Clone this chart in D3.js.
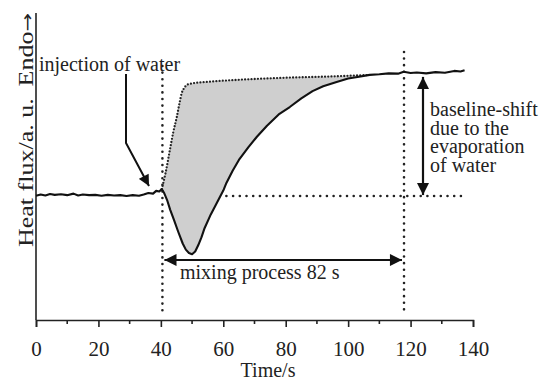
<!DOCTYPE html>
<html>
<head>
<meta charset="utf-8">
<script src="https://cdn.jsdelivr.net/npm/d3@7"></script>
<style>
  body { margin: 0; background: #fff; }
  svg { display: block; font-family: "Liberation Serif", "Times New Roman", serif; }
  .label { font-size: 20px; fill: #222; }
</style>
</head>
<body>
<div id="chart"></div>
<script>
// DATA
// ------------------------------------------------------------------

// measured heat flux curve (time in s, heat flux in a. u.)
var fluxTime = [0, 1.5, 3, 4.5, 6, 8, 10, 12, 13.5, 15, 17, 19, 21, 23, 25, 27, 29, 31, 33, 34.5,
                36, 37.5, 38.5, 39.5, 40.3, 41, 42, 43, 44.2, 45.5, 47, 48, 49, 50, 51, 52, 53, 54,
                56, 58, 60, 61, 63, 65, 68, 70.7, 74, 78, 81.3, 85, 88.6, 92, 96.3, 100, 103, 106.9,
                110, 113, 116, 117.8, 120, 122, 125, 128, 131, 134, 136, 137.3];
var fluxValue = [40.6, 41.0, 40.7, 41.2, 40.9, 41.1, 40.8, 41.3, 40.7, 41.0, 40.8, 40.9, 40.6, 40.9, 40.7, 40.8, 40.5, 40.8, 40.6, 41.0,
                 41.5, 41.3, 42.2, 42.0, 42.8, 41.6, 39.2, 36.0, 32.7, 29.0, 25.0, 23.0, 21.9, 21.5, 22.4, 24.5, 27.0, 30.0,
                 34.5, 38.4, 42.3, 44.8, 48.8, 52.3, 56.4, 59.8, 63.5, 67.4, 69.6, 72.4, 74.8, 76.4, 77.8, 78.9, 79.4, 80.1,
                 80.3, 80.6, 80.5, 81.1, 80.7, 80.9, 80.6, 81.0, 80.8, 81.4, 81.2, 81.6];

// dotted upper envelope (heat flux without mixing)
var envTime = [40.3, 41.5, 42.9, 44, 45.1, 46, 46.7, 47.5, 48.3, 50, 54.7, 65, 78, 95, 106.9];
var envValue = [42.8, 48.0, 55.6, 61.5, 66.3, 71.0, 74.2, 75.8, 76.8, 77.3, 77.8, 78.5, 79.1, 79.6, 80.1];

var xTicks = [0, 20, 40, 60, 80, 100, 120, 140];
var xMinorTicks = [10, 30, 50, 70, 90, 110, 130];

// marker lines and annotation positions (data units)
var mixStart = 40.5, mixEnd = 117.9;
var baseLevel = 40.5, shiftLevel = 80.1;
var baselineText = ["baseline-shift", "due to the", "evaporation", "of water"];

// CANVAS
// ------------------------------------------------------------------

var width = 540,
    height = 381;

var svg = d3.select("#chart")
    .append("svg")
    .attr("width", width)
    .attr("height", height);

var defs = svg.append("defs");
defs.append("marker")
    .attr("id", "head")
    .attr("viewBox", "0 0 10 10")
    .attr("refX", 10).attr("refY", 5)
    .attr("markerWidth", 6).attr("markerHeight", 5.5)
    .attr("markerUnits", "strokeWidth")
    .attr("orient", "auto-start-reverse")
  .append("path")
    .attr("d", "M0,0 L10,5 L0,10 Z")
    .attr("fill", "#111");

// AXES
// ------------------------------------------------------------------

var xScale = d3.scaleLinear().domain([0, 140]).range([36, 473]),
    yScale = d3.scaleLinear().domain([0, 100]).range([320, 14]);

var xAxis = d3.axisBottom(xScale)
    .tickValues(xTicks)
    .tickSize(7)
    .tickPadding(14)
    .tickFormat(d3.format("d"));

var gx = svg.append("g")
    .attr("transform", "translate(0,320)")
    .call(xAxis);
gx.select(".domain").attr("stroke", "#222").attr("stroke-width", 1.6);
gx.selectAll(".tick line").attr("stroke", "#222").attr("stroke-width", 1.6);
gx.selectAll(".tick text")
    .attr("fill", "#222")
    .style("font-family", "Liberation Serif, serif")
    .style("font-size", "21px");

gx.selectAll(".minor")
    .data(xMinorTicks)
  .enter().append("line")
    .attr("x1", function(d) { return xScale(d); })
    .attr("x2", function(d) { return xScale(d); })
    .attr("y1", 0).attr("y2", 4)
    .attr("stroke", "#222").attr("stroke-width", 1.6);

svg.append("line")
    .attr("x1", 36).attr("x2", 36)
    .attr("y1", 13).attr("y2", 320)
    .attr("stroke", "#222").attr("stroke-width", 1.6);

svg.append("text")
    .attr("class", "label")
    .attr("x", 268).attr("y", 377)
    .attr("text-anchor", "middle")
    .text("Time/s");

// y label is stretched along its length, as in the original figure
svg.append("text")
    .attr("class", "label")
    .attr("transform", "translate(33,247) rotate(-90) scale(1.3,1)")
    .text("Heat flux/a. u.");
var endo = svg.append("text")
    .attr("class", "label")
    .attr("transform", "translate(33,13) rotate(-90) scale(1.3,1)")
    .attr("text-anchor", "end");
endo.append("tspan").text("Endo");
endo.append("tspan")
    .style("font-family", "DejaVu Sans, sans-serif")
    .style("font-size", "17px")
    .text("\u2192");

// PATHS
// ------------------------------------------------------------------

var fluxData = fluxTime.map(function(t, i) { return [t, fluxValue[i]]; });
var envData = envTime.map(function(t, i) { return [t, envValue[i]]; });

var linear = d3.line()
    .x(function(d) { return xScale(d[0]); })
    .y(function(d) { return yScale(d[1]); })
    .curve(d3.curveLinear);
var smooth = d3.line()
    .x(function(d) { return xScale(d[0]); })
    .y(function(d) { return yScale(d[1]); })
    .curve(d3.curveMonotoneX);

// grey area between envelope and measured curve
var envEnd = envTime[envTime.length - 1];
var lower = fluxData.filter(function(d) { return d[0] > envTime[0] && d[0] < envEnd; }).reverse();
svg.append("path")
    .attr("d", linear(envData.concat(lower)) + "Z")
    .attr("fill", "#cfcfcf");

// dotted reference lines
function dotted(x1, y1, x2, y2, gap) {
  svg.append("line")
      .attr("x1", xScale(x1)).attr("y1", yScale(y1))
      .attr("x2", xScale(x2)).attr("y2", yScale(y2))
      .attr("stroke", "#222")
      .attr("stroke-width", 2.6)
      .attr("stroke-linecap", "round")
      .attr("stroke-dasharray", "0 " + gap);
}
dotted(mixStart, 83, mixStart, 2.6, 6.6);
dotted(mixEnd, 87.6, mixEnd, 2.6, 6.6);
dotted(61, baseLevel, 137.5, baseLevel, 6.7);

svg.append("path")
    .attr("d", smooth(envData))
    .attr("fill", "none")
    .attr("stroke", "#222")
    .attr("stroke-width", 2.3)
    .attr("stroke-linecap", "round")
    .attr("stroke-dasharray", "0 3.2");

svg.append("path")
    .attr("d", linear(fluxData))
    .attr("fill", "none")
    .attr("stroke", "#111")
    .attr("stroke-width", 2.1)
    .attr("stroke-linejoin", "round");

// ANNOTATIONS
// ------------------------------------------------------------------

// mixing process arrow
svg.append("line")
    .attr("x1", xScale(mixStart) + 2).attr("x2", xScale(mixEnd) - 2)
    .attr("y1", 260).attr("y2", 260)
    .attr("stroke", "#111").attr("stroke-width", 2.2)
    .attr("marker-start", "url(#head)")
    .attr("marker-end", "url(#head)");
svg.append("text")
    .attr("class", "label")
    .attr("x", 180).attr("y", 279)
    .text("mixing process 82 s");

// baseline shift arrow
svg.append("line")
    .attr("x1", 423).attr("x2", 423)
    .attr("y1", yScale(shiftLevel) + 2).attr("y2", yScale(baseLevel) - 1)
    .attr("stroke", "#111").attr("stroke-width", 2.2)
    .attr("marker-start", "url(#head)")
    .attr("marker-end", "url(#head)");
svg.append("text")
    .attr("class", "label")
    .attr("y", 116)
  .selectAll("tspan")
    .data(baselineText)
  .enter().append("tspan")
    .attr("x", 430)
    .attr("dy", function(d, i) { return i === 0 ? 0 : 18.6; })
    .text(function(d) { return d; });

// injection arrow
svg.append("path")
    .attr("d", "M126,74 L126,143 L149,186")
    .attr("fill", "none")
    .attr("stroke", "#111").attr("stroke-width", 2)
    .attr("marker-end", "url(#head)");
svg.append("text")
    .attr("class", "label")
    .attr("x", 39).attr("y", 71)
    .text("injection of water");
</script>
</body>
</html>
